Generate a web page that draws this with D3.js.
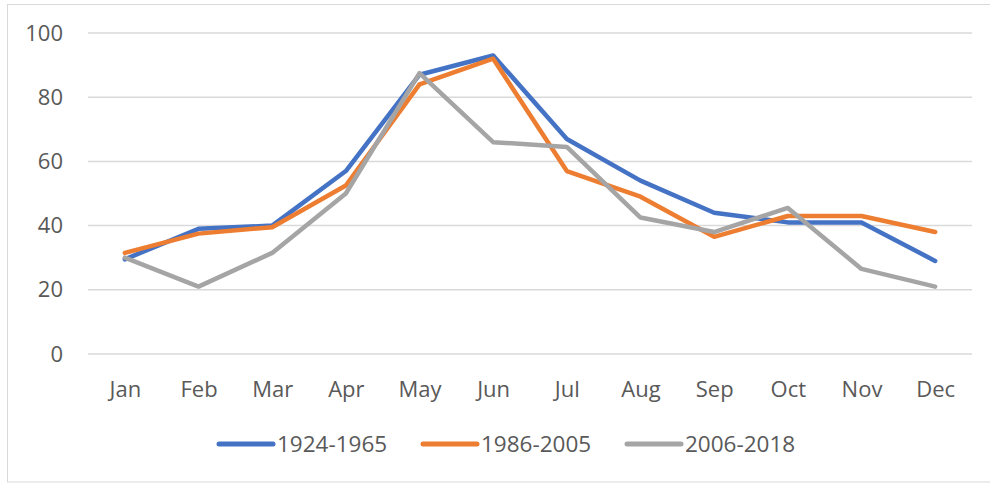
<!DOCTYPE html>
<html>
<head>
<meta charset="utf-8">
<script src="https://cdn.jsdelivr.net/npm/d3@7"></script>
<style>
  body { margin: 0; background: #fff; }
  text { font-family: "Open Sans", "Noto Sans", sans-serif; fill: #595959; }
</style>
</head>
<body>
<div id="chart"></div>
<script>
const months = ['Jan','Feb','Mar','Apr','May','Jun','Jul','Aug','Sep','Oct','Nov','Dec'];
const yTicks = [0, 20, 40, 60, 80, 100];
const seriesNames = ['1924-1965', '1986-2005', '2006-2018'];
const s1924 = [29.5, 39, 40, 57, 87, 93, 67, 54, 44, 41, 41, 29];
const s1986 = [31.5, 37.5, 39.5, 52.5, 84, 92, 57, 49, 36.5, 43, 43, 38];
const s2006 = [30, 21, 31.5, 50, 87.5, 66, 64.5, 42.5, 38, 45.5, 26.5, 21];
const colors = ['#4472C4', '#ED7D31', '#A5A5A5'];

const w = 990, h = 483;
const svg = d3.select('#chart').append('svg')
  .attr('width', w).attr('height', h);

// outer chart border
svg.append('rect')
  .attr('x', 7.5).attr('y', 4.5)
  .attr('width', 1000).attr('height', 477.5)
  .attr('fill', 'none').attr('stroke', '#d9d9d9').attr('stroke-width', 1);

const xScale = d3.scalePoint().domain(months).range([88, 972]).padding(0.5);
const yScale = d3.scaleLinear().domain([0, 100]).range([354, 33]);

// gridlines
svg.append('g')
  .selectAll('line')
  .data(yTicks)
  .enter()
  .append('line')
  .attr('x1', 88).attr('x2', 972)
  .attr('y1', d => yScale(d)).attr('y2', d => yScale(d))
  .attr('stroke', '#d9d9d9').attr('stroke-width', 1.5);

const yAxis = d3.axisLeft(yScale).tickValues(yTicks).tickSize(0).tickPadding(0);
svg.append('g')
  .attr('transform', 'translate(63,0)')
  .call(yAxis)
  .call(g => g.select('.domain').remove())
  .selectAll('text')
  .style('font-size', '22px')
  .attr('fill', '#595959');

const xAxis = d3.axisBottom(xScale).tickSize(0).tickPadding(0);
svg.append('g')
  .attr('transform', 'translate(0,397)')
  .call(xAxis)
  .call(g => g.select('.domain').remove())
  .selectAll('text')
  .attr('y', 0).attr('dy', 0)
  .style('font-size', '22px')
  .attr('fill', '#595959');

const line = d3.line()
  .x((d, i) => xScale(months[i]))
  .y(d => yScale(d));

[s1924, s1986, s2006].forEach((s, i) => {
  svg.append('path')
    .datum(s)
    .attr('d', line)
    .attr('fill', 'none')
    .attr('stroke', colors[i])
    .attr('stroke-width', 4.5)
    .attr('stroke-linejoin', 'round')
    .attr('stroke-linecap', 'round');
});

// legend
const legendX = [219, 423, 627];
const legend = svg.append('g').attr('id', 'legend');
seriesNames.forEach((name, i) => {
  legend.append('line')
    .attr('x1', legendX[i]).attr('x2', legendX[i] + 54)
    .attr('y1', 444).attr('y2', 444)
    .attr('stroke', colors[i]).attr('stroke-width', 5)
    .attr('stroke-linecap', 'round');
  legend.append('text')
    .attr('x', legendX[i] + 58)
    .attr('y', 444)
    .attr('dy', '0.36em')
    .style('font-size', '22.5px')
    .text(name);
});
</script>
</body>
</html>
